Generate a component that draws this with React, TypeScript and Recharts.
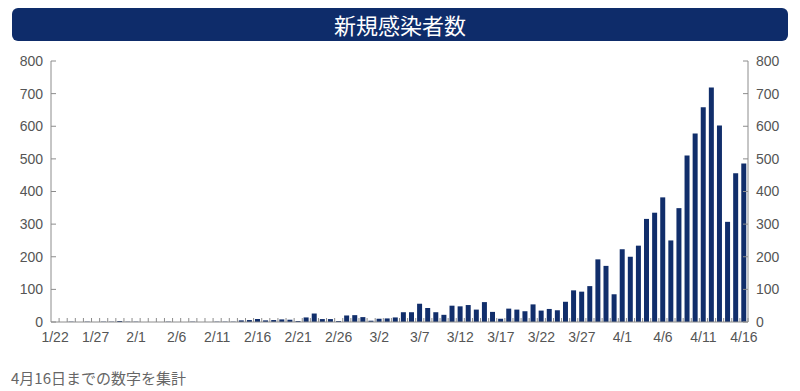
import { ComposedChart, Bar, Line, XAxis, YAxis } from 'recharts'

const days = [
  '1/22', '1/23', '1/24', '1/25', '1/26', '1/27', '1/28', '1/29', '1/30', '1/31',
  '2/1', '2/2', '2/3', '2/4', '2/5', '2/6', '2/7', '2/8', '2/9', '2/10', '2/11', '2/12',
  '2/13', '2/14', '2/15', '2/16', '2/17', '2/18', '2/19', '2/20', '2/21', '2/22', '2/23',
  '2/24', '2/25', '2/26', '2/27', '2/28', '2/29',
  '3/1', '3/2', '3/3', '3/4', '3/5', '3/6', '3/7', '3/8', '3/9', '3/10', '3/11', '3/12',
  '3/13', '3/14', '3/15', '3/16', '3/17', '3/18', '3/19', '3/20', '3/21', '3/22', '3/23',
  '3/24', '3/25', '3/26', '3/27', '3/28', '3/29', '3/30', '3/31',
  '4/1', '4/2', '4/3', '4/4', '4/5', '4/6', '4/7', '4/8', '4/9', '4/10', '4/11', '4/12',
  '4/13', '4/14', '4/15', '4/16',
]

const newCases = [
  0, 0, 1, 0, 1, 0, 1, 1, 3, 1,
  1, 0, 0, 0, 1, 0, 0, 1, 0, 0, 1, 1,
  1, 5, 6, 9, 5, 6, 8, 7, 3, 14, 26,
  9, 9, 3, 20, 21, 15,
  4, 10, 11, 14, 30, 30, 56, 43, 30, 22, 50, 48,
  52, 38, 61, 31, 10, 41, 38, 33, 54, 35, 40,
  36, 62, 97, 93, 110, 192, 172, 85,
  223, 200, 234, 316, 335, 382, 250, 349, 510, 578, 658, 719,
  602, 307, 456, 486,
]

const yTicks = [0, 100, 200, 300, 400, 500, 600, 700, 800]

const data = days.map((day, i) => ({ day, count: newCases[i] }))

const W = 800
const H = 350
const M = { top: 61, right: 12, bottom: 6, left: 11 }
const Y_W = 40
const band = (W - M.left - M.right - 2 * Y_W) / days.length

const AXIS = '#8c8c8c'
const LABEL = '#555'
const NAVY = '#112e6b'
const font = '"Liberation Sans", Arial, sans-serif'

function DayTick(props: any) {
  const { x, y, index, payload } = props
  return (
    <g>
      <line x1={x + band / 2} x2={x + band / 2} y1={y - 8} y2={y - 12} stroke={AXIS} strokeWidth={1} />
      {index % 5 === 0 && (
        <text x={x} y={y + 2} dy="0.71em" textAnchor="middle" fill={LABEL} fontSize={14} fontFamily={font}>
          {payload.value}
        </text>
      )}
    </g>
  )
}

function LeftTick(props: any) {
  const { x, y, payload } = props
  return (
    <g>
      <line x1={x + 8} x2={x + 13} y1={y} y2={y} stroke={AXIS} />
      <text x={x} y={y} dy="0.355em" textAnchor="end" fill={LABEL} fontSize={14} fontFamily={font}>
        {payload.value}
      </text>
    </g>
  )
}

function RightTick(props: any) {
  const { x, y, payload } = props
  return (
    <g>
      <line x1={x - 8} x2={x - 13} y1={y} y2={y} stroke={AXIS} />
      <text x={x} y={y} dy="0.355em" textAnchor="start" fill={LABEL} fontSize={14} fontFamily={font}>
        {payload.value}
      </text>
    </g>
  )
}

export default function App() {
  return (
    <div style={{ position: 'absolute', left: 0, top: 0, width: W, height: 391, background: '#fff' }}>
      <div
        style={{
          position: 'absolute',
          left: 12,
          top: 8,
          width: 776,
          height: 33,
          background: '#0e2c6a',
          borderRadius: 6,
          color: '#fff',
          fontFamily: '"Noto Sans CJK JP", sans-serif',
          fontSize: 22,
          lineHeight: '33px',
          textAlign: 'center',
        }}
      >
        新規感染者数
      </div>
      <div style={{ position: 'absolute', left: 0, top: 0 }}>
        <ComposedChart width={W} height={H} data={data} margin={M} barCategoryGap="17%">
          <XAxis
            dataKey="day"
            interval={0}
            height={22}
            stroke={AXIS}
            tickLine={false}
            tick={<DayTick />}
          />
          <YAxis
            yAxisId="left"
            orientation="left"
            width={Y_W}
            domain={[0, 800]}
            ticks={yTicks}
            stroke={AXIS}
            tickLine={false}
            tick={<LeftTick />}
          />
          <YAxis
            yAxisId="right"
            orientation="right"
            width={Y_W}
            domain={[0, 800]}
            ticks={yTicks}
            stroke={AXIS}
            tickLine={false}
            tick={<RightTick />}
          />
          <Bar yAxisId="left" dataKey="count" fill={NAVY} isAnimationActive={false} />
          <Line
            yAxisId="right"
            dataKey="count"
            stroke="none"
            dot={false}
            activeDot={false}
            legendType="none"
            isAnimationActive={false}
          />
        </ComposedChart>
      </div>
      <div
        style={{
          position: 'absolute',
          left: 11,
          top: 367,
          fontFamily: '"Noto Sans CJK JP", sans-serif',
          fontSize: 15,
          color: '#666',
          lineHeight: '22px',
        }}
      >
        4月16日までの数字を集計
      </div>
    </div>
  )
}
